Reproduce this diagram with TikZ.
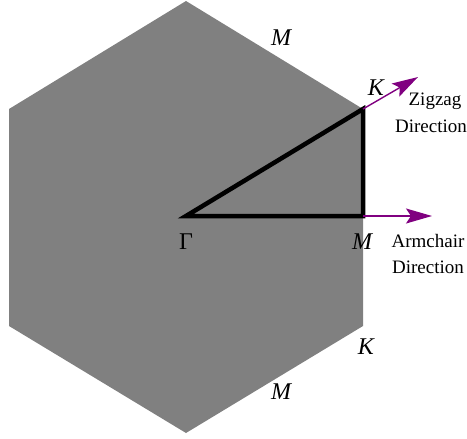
\documentclass[tikz,border=0pt]{standalone}
\usepackage{fontspec}
\setmainfont{Liberation Serif}
\usepackage{tikz}
\usetikzlibrary{arrows.meta}
\definecolor{zonegray}{RGB}{128,128,128}
\definecolor{dirpurple}{RGB}{128,0,128}

\begin{document}
\begin{tikzpicture}[
      x=1pt, y=-1pt,
      every node/.style={inner sep=0pt},
      pointlabel/.style={font=\fontsize{24}{24}\selectfont\itshape},
      dirlabel/.style={font=\fontsize{19}{27}\selectfont, align=center},
      path/.style={line width=4.5pt, line join=miter},
      dirarrow/.style={draw=dirpurple, line width=1.4pt,
        -{Stealth[length=26pt, width=15pt, inset=5pt, fill=dirpurple]}}
    ]
    \useasboundingbox (0,0) rectangle (467,439);

    % Brillouin zone
    \coordinate (top)   at (186,1);
    \coordinate (ur)    at (363,109);
    \coordinate (lr)    at (363,326);
    \coordinate (bot)   at (186,433);
    \coordinate (ll)    at (9,326);
    \coordinate (ul)    at (9,109);
    \fill[zonegray] (top) -- (ur) -- (lr) -- (bot) -- (ll) -- (ul) -- cycle;

    % high symmetry points
    \coordinate (gamma) at (186,216);
    \coordinate (mpt)   at (363,216);
    \coordinate (kpt)   at (363,109);
    \draw[path] (gamma) -- (mpt) -- (kpt) -- cycle;

    % directions
    \coordinate (zzend) at (418,77);
    \coordinate (acend) at (432,216);
    \draw[dirarrow] (kpt) -- (zzend);
    \draw[dirarrow] (mpt) -- (acend);

    \node[pointlabel] (mtop) at (281,38)  {M};
    \node[pointlabel] (ktop) at (376,88)  {K};
    \node[font=\fontsize{24}{24}\selectfont] (glabel) at (186,242) {Γ};
    \node[pointlabel] (mlabel) at (362,242) {M};
    \node[pointlabel] (kbot) at (366,347) {K};
    \node[pointlabel] (mbot) at (281,392) {M};

    \node[dirlabel] (zigzag) at (431,113) {\hspace*{8pt}Zigzag\\Direction};
    \node[dirlabel] (armchair) at (428,254) {Armchair\\Direction};
  \end{tikzpicture}
\end{document}
